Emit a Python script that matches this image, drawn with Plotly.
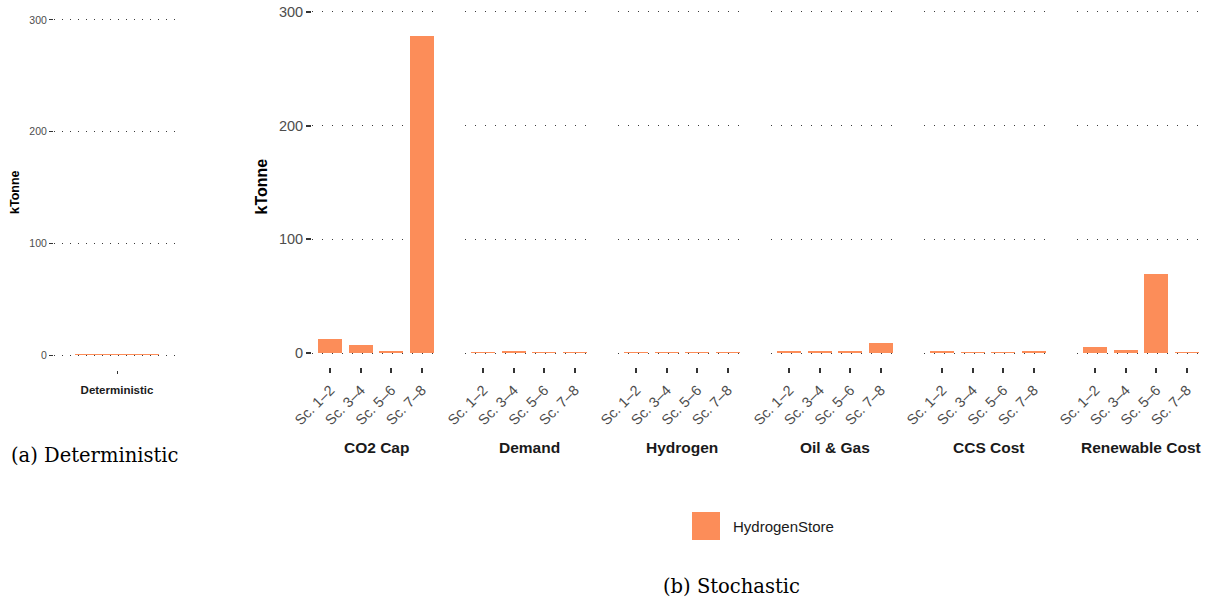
import plotly.graph_objects as go

# HydrogenStore capacity (kTonne)
scenarios = ["Sc. 1–2", "Sc. 3–4", "Sc. 5–6", "Sc. 7–8"]
facets = ["CO2 Cap", "Demand", "Hydrogen", "Oil & Gas", "CCS Cost", "Renewable Cost"]
co2_cap = [12.5, 7.3, 2.0, 279.0]
demand = [0.3, 2.0, 0.3, 0.3]
hydrogen = [0.3, 0.3, 0.3, 0.3]
oil_gas = [1.2, 2.0, 2.0, 8.2]
ccs_cost = [1.2, 0.3, 0.3, 1.2]
renewable_cost = [4.7, 2.9, 68.9, 0.3]
deterministic_cat = ["Deterministic"]
deterministic = [0.3]
y_ticks = [0, 100, 200, 300]
series_name = "HydrogenStore"

facet_values = [co2_cap, demand, hydrogen, oil_gas, ccs_cost, renewable_cost]

W, H = 1210, 600
BAR = "#FC8D59"
GRID = "#3a3a3a"
TICKC = "#333333"
LABC = "#4d4d4d"
SANS = "Liberation Sans, Arial, sans-serif"
SERIF = "DejaVu Serif, serif"


def px_x(a, b):
    return [a / W, b / W]


def px_y(top, bottom):
    return [1 - bottom / H, 1 - top / H]


fig = go.Figure()

# ---- left panel: deterministic run ----
fig.add_trace(go.Bar(x=deterministic_cat, y=deterministic, marker_color=BAR,
                     width=0.8, xaxis="x", yaxis="y", showlegend=False))

layout = dict(
    template="none",
    width=W, height=H, margin=dict(l=0, r=0, t=0, b=0, pad=0),
    paper_bgcolor="white", plot_bgcolor="white", showlegend=False,
    bargap=0,
)

layout["xaxis"] = dict(
    domain=px_x(54, 180), anchor="y", range=[-0.6, 0.6], type="category",
    automargin=False,
    showgrid=False, zeroline=False, showline=False,
    ticks="outside", ticklen=3, tickwidth=1, tickcolor=TICKC,
    tickfont=dict(family=SANS, size=11.5, color="#1a1a1a", weight="bold"),
    ticklabelstandoff=6,
)
layout["yaxis"] = dict(
    domain=px_y(14.4, 370), anchor="x", range=[-13.4, 305],
    automargin=False,
    tickvals=y_ticks, showgrid=True, gridcolor=GRID, gridwidth=1,
    griddash="1px,7px", zeroline=False, showline=False,
    ticks="outside", ticklen=4, tickwidth=1.2, tickcolor=TICKC,
    tickfont=dict(family=SANS, size=10.5, color=LABC),
    title=dict(text="kTonne", standoff=6,
               font=dict(family=SANS, size=12.5, color="black", weight="bold")),
)

# ---- right panels: stochastic runs, one facet per uncertainty ----
start, width, step = 312, 128, 153
for i, (name, vals) in enumerate(zip(facets, facet_values)):
    xa = f"x{i + 2}"
    ya = f"y{i + 2}"
    fig.add_trace(go.Bar(x=scenarios, y=vals, marker_color=BAR, width=0.8,
                         name=series_name, xaxis=xa, yaxis=ya, showlegend=False))
    x0 = start + i * step
    layout[f"xaxis{i + 2}"] = dict(
        domain=px_x(x0, x0 + width), anchor=ya, range=[-0.6, 3.6],
        type="category", categoryorder="array", categoryarray=scenarios,
        automargin=False,
        showgrid=False, zeroline=False, showline=False,
        ticks="outside", ticklen=5, tickwidth=1.5, tickcolor=TICKC,
        tickangle=-45,
        tickfont=dict(family=SANS, size=14.5, color=LABC),
        ticklabelstandoff=3,
    )
    ydict = dict(
        domain=px_y(6.2, 367), anchor=xa, range=[-12.3, 305],
        automargin=False,
        tickvals=y_ticks, showgrid=True, gridcolor=GRID, gridwidth=1.2,
        griddash="1px,9px", zeroline=False, showline=False,
    )
    if i == 0:
        ydict.update(
            ticks="outside", ticklen=5, tickwidth=1.5, tickcolor=TICKC,
            tickfont=dict(family=SANS, size=14.5, color=LABC),
            title=dict(text="kTonne", standoff=7,
                       font=dict(family=SANS, size=16, color="black", weight="bold")),
        )
    else:
        ydict.update(showticklabels=False, ticks="")
    layout[f"yaxis{i + 2}"] = ydict

    # facet strip label below the panel
    fig.add_annotation(
        x=(x0 + width / 2) / W, y=1 - 447 / H, xref="paper", yref="paper",
        text=name, showarrow=False, xanchor="center", yanchor="middle",
        font=dict(family=SANS, size=15.5, color="#1a1a1a", weight="bold"),
    )

fig.update_layout(**layout)

# legend key
fig.add_shape(type="rect", xref="paper", yref="paper",
              x0=692 / W, x1=720 / W, y0=1 - 540 / H, y1=1 - 512 / H,
              fillcolor=BAR, line=dict(width=0))
fig.add_annotation(x=731 / W, y=1 - 526 / H, xref="paper", yref="paper",
                   text=series_name, showarrow=False, xanchor="left",
                   yanchor="middle",
                   font=dict(family=SANS, size=15, color="#1a1a1a"))

# sub-figure captions
fig.add_annotation(x=9 / W, y=1 - 455 / H, xref="paper", yref="paper",
                   text="(a) Deterministic", showarrow=False, xanchor="left",
                   yanchor="middle", font=dict(family=SERIF, size=19.5, color="black"))
fig.add_annotation(x=731 / W, y=1 - 586 / H, xref="paper", yref="paper",
                   text="(b) Stochastic", showarrow=False, xanchor="center",
                   yanchor="middle", font=dict(family=SERIF, size=19.5, color="black"))

fig.write_html("out.html")
